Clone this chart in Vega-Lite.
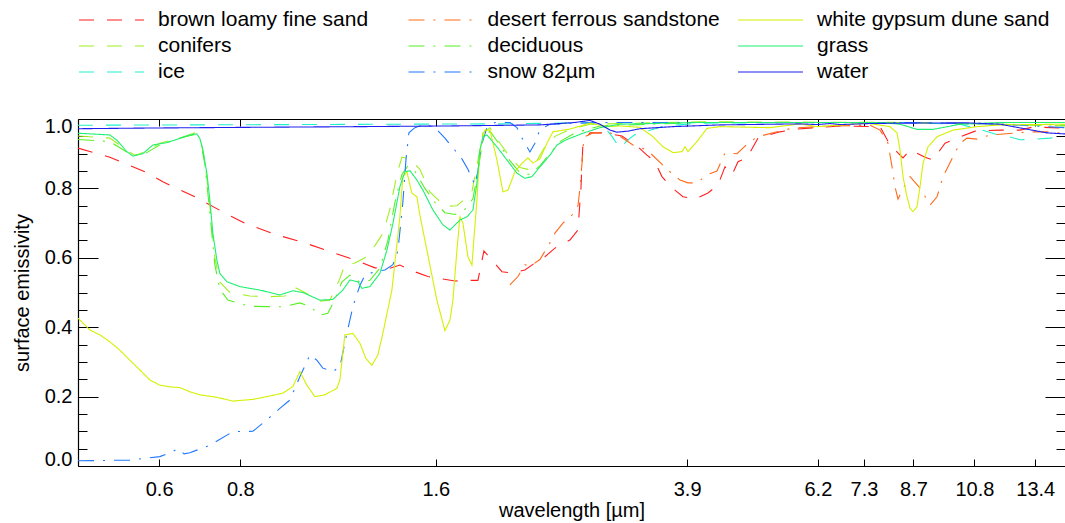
{
  "$schema": "https://vega.github.io/schema/vega-lite/v6.json",
  "width": 987,
  "height": 347,
  "autosize": {"type": "none"},
  "padding": {"left": 78, "top": 119, "right": 0, "bottom": 57},
  "background": "white",
  "config": {
    "font": "Liberation Sans",
    "view": {"stroke": null},
    "axis": {"grid": false, "domainColor": "#000", "domainWidth": 1.2, "tickColor": "#000", "tickWidth": 1, "labelColor": "#000", "labelFontSize": 20, "titleColor": "#000", "titleFontSize": 20, "titleFontWeight": "normal", "labelOverlap": false}
  },
  "data": {"values": [
    {"s":"brown loamy fine sand","w":0.45,"e":0.916},{"s":"brown loamy fine sand","w":0.5038,"e":0.89},{"s":"brown loamy fine sand","w":0.5703,"e":0.848},{"s":"brown loamy fine sand","w":0.6079,"e":0.819},{"s":"brown loamy fine sand","w":0.681,"e":0.776},{"s":"brown loamy fine sand","w":0.7574,"e":0.729},{"s":"brown loamy fine sand","w":0.8189,"e":0.697},{"s":"brown loamy fine sand","w":0.9107,"e":0.666},{"s":"brown loamy fine sand","w":1.0057,"e":0.643},{"s":"brown loamy fine sand","w":1.0991,"e":0.618},{"s":"brown loamy fine sand","w":1.2009,"e":0.594},{"s":"brown loamy fine sand","w":1.2893,"e":0.571},{"s":"brown loamy fine sand","w":1.3597,"e":0.57},{"s":"brown loamy fine sand","w":1.4087,"e":0.579},{"s":"brown loamy fine sand","w":1.4596,"e":0.565},{"s":"brown loamy fine sand","w":1.5558,"e":0.546},{"s":"brown loamy fine sand","w":1.7122,"e":0.533},{"s":"brown loamy fine sand","w":1.8058,"e":0.535},{"s":"brown loamy fine sand","w":1.8577,"e":0.535},{"s":"brown loamy fine sand","w":1.8976,"e":0.62},{"s":"brown loamy fine sand","w":1.9385,"e":0.6},{"s":"brown loamy fine sand","w":2.0229,"e":0.56},{"s":"brown loamy fine sand","w":2.1032,"e":0.556},{"s":"brown loamy fine sand","w":2.1945,"e":0.565},{"s":"brown loamy fine sand","w":2.2737,"e":0.585},{"s":"brown loamy fine sand","w":2.3558,"e":0.603},{"s":"brown loamy fine sand","w":2.4408,"e":0.628},{"s":"brown loamy fine sand","w":2.5742,"e":0.651},{"s":"brown loamy fine sand","w":2.6483,"e":0.68},{"s":"brown loamy fine sand","w":2.6766,"e":0.8},{"s":"brown loamy fine sand","w":2.6957,"e":0.93},{"s":"brown loamy fine sand","w":2.7635,"e":0.96},{"s":"brown loamy fine sand","w":2.9144,"e":0.96},{"s":"brown loamy fine sand","w":3.0955,"e":0.951},{"s":"brown loamy fine sand","w":3.2762,"e":0.92},{"s":"brown loamy fine sand","w":3.3825,"e":0.896},{"s":"brown loamy fine sand","w":3.4798,"e":0.877},{"s":"brown loamy fine sand","w":3.5673,"e":0.834},{"s":"brown loamy fine sand","w":3.6701,"e":0.807},{"s":"brown loamy fine sand","w":3.8431,"e":0.776},{"s":"brown loamy fine sand","w":4.0102,"e":0.769},{"s":"brown loamy fine sand","w":4.1994,"e":0.787},{"s":"brown loamy fine sand","w":4.351,"e":0.81},{"s":"brown loamy fine sand","w":4.4604,"e":0.862},{"s":"brown loamy fine sand","w":4.5725,"e":0.839},{"s":"brown loamy fine sand","w":4.6708,"e":0.877},{"s":"brown loamy fine sand","w":4.8223,"e":0.888},{"s":"brown loamy fine sand","w":5.0141,"e":0.945},{"s":"brown loamy fine sand","w":5.4215,"e":0.963},{"s":"brown loamy fine sand","w":5.7578,"e":0.971},{"s":"brown loamy fine sand","w":6.7066,"e":0.98},{"s":"brown loamy fine sand","w":7.729,"e":0.978},{"s":"brown loamy fine sand","w":8.0075,"e":0.925},{"s":"brown loamy fine sand","w":8.3842,"e":0.888},{"s":"brown loamy fine sand","w":8.5969,"e":0.911},{"s":"brown loamy fine sand","w":9.0646,"e":0.89},{"s":"brown loamy fine sand","w":9.3254,"e":0.882},{"s":"brown loamy fine sand","w":9.7307,"e":0.93},{"s":"brown loamy fine sand","w":10.1537,"e":0.945},{"s":"brown loamy fine sand","w":10.8229,"e":0.965},{"s":"brown loamy fine sand","w":11.8278,"e":0.968},{"s":"brown loamy fine sand","w":12.6966,"e":0.968},{"s":"brown loamy fine sand","w":13.2944,"e":0.977},{"s":"brown loamy fine sand","w":14.89,"e":0.974},

    {"s":"conifers","w":0.45,"e":0.951},{"s":"conifers","w":0.5038,"e":0.945},{"s":"conifers","w":0.5351,"e":0.91},{"s":"conifers","w":0.5505,"e":0.895},{"s":"conifers","w":0.5703,"e":0.905},{"s":"conifers","w":0.6015,"e":0.93},{"s":"conifers","w":0.6457,"e":0.945},{"s":"conifers","w":0.681,"e":0.96},{"s":"conifers","w":0.6932,"e":0.95},{"s":"conifers","w":0.7056,"e":0.88},{"s":"conifers","w":0.7182,"e":0.75},{"s":"conifers","w":0.731,"e":0.6},{"s":"conifers","w":0.7441,"e":0.53},{"s":"conifers","w":0.7709,"e":0.5},{"s":"conifers","w":0.8276,"e":0.49},{"s":"conifers","w":0.8885,"e":0.488},{"s":"conifers","w":0.9369,"e":0.49},{"s":"conifers","w":0.9707,"e":0.515},{"s":"conifers","w":1.0057,"e":0.5},{"s":"conifers","w":1.0609,"e":0.475},{"s":"conifers","w":1.0991,"e":0.478},{"s":"conifers","w":1.1388,"e":0.54},{"s":"conifers","w":1.159,"e":0.58},{"s":"conifers","w":1.2009,"e":0.585},{"s":"conifers","w":1.2443,"e":0.6},{"s":"conifers","w":1.2893,"e":0.635},{"s":"conifers","w":1.3264,"e":0.67},{"s":"conifers","w":1.3597,"e":0.74},{"s":"conifers","w":1.3939,"e":0.84},{"s":"conifers","w":1.4187,"e":0.89},{"s":"conifers","w":1.4596,"e":0.885},{"s":"conifers","w":1.5123,"e":0.855},{"s":"conifers","w":1.5669,"e":0.79},{"s":"conifers","w":1.6526,"e":0.748},{"s":"conifers","w":1.7244,"e":0.75},{"s":"conifers","w":1.7741,"e":0.77},{"s":"conifers","w":1.8186,"e":0.79},{"s":"conifers","w":1.8577,"e":0.88},{"s":"conifers","w":1.8909,"e":0.96},{"s":"conifers","w":1.9385,"e":0.975},{"s":"conifers","w":2.0085,"e":0.93},{"s":"conifers","w":2.0809,"e":0.89},{"s":"conifers","w":2.1559,"e":0.86},{"s":"conifers","w":2.218,"e":0.855},{"s":"conifers","w":2.2737,"e":0.87},{"s":"conifers","w":2.3558,"e":0.92},{"s":"conifers","w":2.4408,"e":0.95},{"s":"conifers","w":2.5742,"e":0.97},{"s":"conifers","w":2.7635,"e":0.985},{"s":"conifers","w":4.0823,"e":0.992},{"s":"conifers","w":8.2969,"e":0.99},{"s":"conifers","w":11.8278,"e":0.985},{"s":"conifers","w":14.89,"e":0.98},

    {"s":"ice","w":0.45,"e":0.982},{"s":"ice","w":0.9881,"e":0.984},{"s":"ice","w":2.0085,"e":0.986},{"s":"ice","w":2.4845,"e":0.988},{"s":"ice","w":2.7635,"e":0.99},{"s":"ice","w":2.9144,"e":0.975},{"s":"ice","w":2.9876,"e":0.95},{"s":"ice","w":3.0738,"e":0.915},{"s":"ice","w":3.1621,"e":0.94},{"s":"ice","w":3.2416,"e":0.955},{"s":"ice","w":3.3825,"e":0.965},{"s":"ice","w":3.6054,"e":0.98},{"s":"ice","w":4.0823,"e":0.988},{"s":"ice","w":5.8198,"e":0.99},{"s":"ice","w":8.2969,"e":0.99},{"s":"ice","w":10.2642,"e":0.985},{"s":"ice","w":11.0178,"e":0.97},{"s":"ice","w":11.6185,"e":0.957},{"s":"ice","w":12.255,"e":0.948},{"s":"ice","w":12.6966,"e":0.94},{"s":"ice","w":13.3893,"e":0.942},{"s":"ice","w":14.1223,"e":0.945},{"s":"ice","w":14.89,"e":0.95},

    {"s":"desert ferrous sandstone","w":2.0809,"e":0.522},{"s":"desert ferrous sandstone","w":2.1409,"e":0.546},{"s":"desert ferrous sandstone","w":2.1945,"e":0.58},{"s":"desert ferrous sandstone","w":2.2337,"e":0.575},{"s":"desert ferrous sandstone","w":2.3144,"e":0.595},{"s":"desert ferrous sandstone","w":2.3981,"e":0.643},{"s":"desert ferrous sandstone","w":2.4408,"e":0.671},{"s":"desert ferrous sandstone","w":2.5111,"e":0.7},{"s":"desert ferrous sandstone","w":2.5925,"e":0.723},{"s":"desert ferrous sandstone","w":2.6483,"e":0.75},{"s":"desert ferrous sandstone","w":2.6671,"e":0.8},{"s":"desert ferrous sandstone","w":2.6861,"e":0.87},{"s":"desert ferrous sandstone","w":2.7052,"e":0.948},{"s":"desert ferrous sandstone","w":2.793,"e":0.96},{"s":"desert ferrous sandstone","w":2.9666,"e":0.96},{"s":"desert ferrous sandstone","w":3.0738,"e":0.95},{"s":"desert ferrous sandstone","w":3.2186,"e":0.925},{"s":"desert ferrous sandstone","w":3.3825,"e":0.911},{"s":"desert ferrous sandstone","w":3.58,"e":0.867},{"s":"desert ferrous sandstone","w":3.6701,"e":0.848},{"s":"desert ferrous sandstone","w":3.8028,"e":0.824},{"s":"desert ferrous sandstone","w":3.9119,"e":0.816},{"s":"desert ferrous sandstone","w":4.0388,"e":0.816},{"s":"desert ferrous sandstone","w":4.1846,"e":0.839},{"s":"desert ferrous sandstone","w":4.3356,"e":0.85},{"s":"desert ferrous sandstone","w":4.4604,"e":0.902},{"s":"desert ferrous sandstone","w":4.6543,"e":0.9},{"s":"desert ferrous sandstone","w":4.8742,"e":0.935},{"s":"desert ferrous sandstone","w":5.0141,"e":0.949},{"s":"desert ferrous sandstone","w":5.3636,"e":0.963},{"s":"desert ferrous sandstone","w":5.6767,"e":0.974},{"s":"desert ferrous sandstone","w":6.4733,"e":0.98},{"s":"desert ferrous sandstone","w":7.4594,"e":0.982},{"s":"desert ferrous sandstone","w":7.729,"e":0.968},{"s":"desert ferrous sandstone","w":7.9498,"e":0.93},{"s":"desert ferrous sandstone","w":8.0635,"e":0.863},{"s":"desert ferrous sandstone","w":8.1497,"e":0.805},{"s":"desert ferrous sandstone","w":8.2369,"e":0.769},{"s":"desert ferrous sandstone","w":8.3842,"e":0.8},{"s":"desert ferrous sandstone","w":8.5969,"e":0.834},{"s":"desert ferrous sandstone","w":8.9063,"e":0.801},{"s":"desert ferrous sandstone","w":9.2282,"e":0.752},{"s":"desert ferrous sandstone","w":9.4586,"e":0.776},{"s":"desert ferrous sandstone","w":9.662,"e":0.834},{"s":"desert ferrous sandstone","w":10.0108,"e":0.891},{"s":"desert ferrous sandstone","w":10.2642,"e":0.93},{"s":"desert ferrous sandstone","w":10.5202,"e":0.945},{"s":"desert ferrous sandstone","w":10.9,"e":0.942},{"s":"desert ferrous sandstone","w":11.4156,"e":0.954},{"s":"desert ferrous sandstone","w":12.561,"e":0.96},{"s":"desert ferrous sandstone","w":13.1551,"e":0.963},{"s":"desert ferrous sandstone","w":13.971,"e":0.963},{"s":"desert ferrous sandstone","w":14.6316,"e":0.96},

    {"s":"deciduous","w":0.45,"e":0.941},{"s":"deciduous","w":0.5038,"e":0.935},{"s":"deciduous","w":0.5351,"e":0.905},{"s":"deciduous","w":0.5466,"e":0.895},{"s":"deciduous","w":0.5703,"e":0.9},{"s":"deciduous","w":0.6015,"e":0.925},{"s":"deciduous","w":0.6457,"e":0.945},{"s":"deciduous","w":0.681,"e":0.955},{"s":"deciduous","w":0.6932,"e":0.945},{"s":"deciduous","w":0.7056,"e":0.87},{"s":"deciduous","w":0.7182,"e":0.73},{"s":"deciduous","w":0.731,"e":0.58},{"s":"deciduous","w":0.7441,"e":0.51},{"s":"deciduous","w":0.7655,"e":0.478},{"s":"deciduous","w":0.8276,"e":0.46},{"s":"deciduous","w":0.9303,"e":0.459},{"s":"deciduous","w":0.9881,"e":0.47},{"s":"deciduous","w":1.0238,"e":0.46},{"s":"deciduous","w":1.0609,"e":0.435},{"s":"deciduous","w":1.0912,"e":0.44},{"s":"deciduous","w":1.1186,"e":0.48},{"s":"deciduous","w":1.1467,"e":0.53},{"s":"deciduous","w":1.1799,"e":0.55},{"s":"deciduous","w":1.2225,"e":0.53},{"s":"deciduous","w":1.2667,"e":0.535},{"s":"deciduous","w":1.3123,"e":0.57},{"s":"deciduous","w":1.3501,"e":0.65},{"s":"deciduous","w":1.3841,"e":0.76},{"s":"deciduous","w":1.4187,"e":0.84},{"s":"deciduous","w":1.4492,"e":0.865},{"s":"deciduous","w":1.4857,"e":0.85},{"s":"deciduous","w":1.5393,"e":0.8},{"s":"deciduous","w":1.5949,"e":0.76},{"s":"deciduous","w":1.6526,"e":0.73},{"s":"deciduous","w":1.7122,"e":0.725},{"s":"deciduous","w":1.7741,"e":0.74},{"s":"deciduous","w":1.8251,"e":0.77},{"s":"deciduous","w":1.8577,"e":0.85},{"s":"deciduous","w":1.8909,"e":0.94},{"s":"deciduous","w":1.9385,"e":0.965},{"s":"deciduous","w":2.0085,"e":0.925},{"s":"deciduous","w":2.0809,"e":0.88},{"s":"deciduous","w":2.1559,"e":0.845},{"s":"deciduous","w":2.2337,"e":0.84},{"s":"deciduous","w":2.3144,"e":0.865},{"s":"deciduous","w":2.3981,"e":0.9},{"s":"deciduous","w":2.4845,"e":0.935},{"s":"deciduous","w":2.6203,"e":0.96},{"s":"deciduous","w":2.8634,"e":0.98},{"s":"deciduous","w":4.0823,"e":0.99},{"s":"deciduous","w":8.2969,"e":0.99},{"s":"deciduous","w":11.8278,"e":0.985},{"s":"deciduous","w":14.89,"e":0.982},

    {"s":"snow 82µm","w":0.45,"e":0.015},{"s":"snow 82µm","w":0.5408,"e":0.017},{"s":"snow 82µm","w":0.6015,"e":0.027},{"s":"snow 82µm","w":0.6276,"e":0.04},{"s":"snow 82µm","w":0.6411,"e":0.05},{"s":"snow 82µm","w":0.6554,"e":0.035},{"s":"snow 82µm","w":0.669,"e":0.038},{"s":"snow 82µm","w":0.7182,"e":0.06},{"s":"snow 82µm","w":0.7792,"e":0.099},{"s":"snow 82µm","w":0.8365,"e":0.1},{"s":"snow 82µm","w":0.879,"e":0.133},{"s":"snow 82µm","w":0.9205,"e":0.166},{"s":"snow 82µm","w":0.9538,"e":0.19},{"s":"snow 82µm","w":0.9881,"e":0.257},{"s":"snow 82µm","w":1.0238,"e":0.32},{"s":"snow 82µm","w":1.0494,"e":0.305},{"s":"snow 82µm","w":1.072,"e":0.282},{"s":"snow 82µm","w":1.1107,"e":0.272},{"s":"snow 82µm","w":1.1388,"e":0.286},{"s":"snow 82µm","w":1.1673,"e":0.382},{"s":"snow 82µm","w":1.1924,"e":0.459},{"s":"snow 82µm","w":1.2225,"e":0.52},{"s":"snow 82µm","w":1.2443,"e":0.55},{"s":"snow 82µm","w":1.2893,"e":0.56},{"s":"snow 82µm","w":1.3359,"e":0.565},{"s":"snow 82µm","w":1.3743,"e":0.58},{"s":"snow 82µm","w":1.3989,"e":0.62},{"s":"snow 82µm","w":1.4237,"e":0.76},{"s":"snow 82µm","w":1.439,"e":0.88},{"s":"snow 82µm","w":1.4544,"e":0.96},{"s":"snow 82µm","w":1.4857,"e":0.975},{"s":"snow 82µm","w":1.5393,"e":0.985},{"s":"snow 82µm","w":1.5949,"e":0.975},{"s":"snow 82µm","w":1.6526,"e":0.945},{"s":"snow 82µm","w":1.7122,"e":0.91},{"s":"snow 82µm","w":1.7553,"e":0.885},{"s":"snow 82µm","w":1.793,"e":0.855},{"s":"snow 82µm","w":1.838,"e":0.81},{"s":"snow 82µm","w":1.8577,"e":0.85},{"s":"snow 82µm","w":1.8842,"e":0.93},{"s":"snow 82µm","w":1.9179,"e":0.975},{"s":"snow 82µm","w":1.9731,"e":0.99},{"s":"snow 82µm","w":2.0809,"e":0.99},{"s":"snow 82µm","w":2.1333,"e":0.975},{"s":"snow 82µm","w":2.179,"e":0.94},{"s":"snow 82µm","w":2.2337,"e":0.905},{"s":"snow 82µm","w":2.2737,"e":0.93},{"s":"snow 82µm","w":2.3144,"e":0.97},{"s":"snow 82µm","w":2.3981,"e":0.985},{"s":"snow 82µm","w":2.8634,"e":0.99},{"s":"snow 82µm","w":4.0823,"e":0.99},{"s":"snow 82µm","w":8.2969,"e":0.99},{"s":"snow 82µm","w":11.8278,"e":0.985},{"s":"snow 82µm","w":14.89,"e":0.975},

    {"s":"white gypsum dune sand","w":0.45,"e":0.426},{"s":"white gypsum dune sand","w":0.4693,"e":0.392},{"s":"white gypsum dune sand","w":0.4862,"e":0.378},{"s":"white gypsum dune sand","w":0.5038,"e":0.358},{"s":"white gypsum dune sand","w":0.5219,"e":0.334},{"s":"white gypsum dune sand","w":0.5408,"e":0.305},{"s":"white gypsum dune sand","w":0.5603,"e":0.277},{"s":"white gypsum dune sand","w":0.5805,"e":0.248},{"s":"white gypsum dune sand","w":0.6015,"e":0.233},{"s":"white gypsum dune sand","w":0.6232,"e":0.228},{"s":"white gypsum dune sand","w":0.6457,"e":0.226},{"s":"white gypsum dune sand","w":0.669,"e":0.214},{"s":"white gypsum dune sand","w":0.6932,"e":0.205},{"s":"white gypsum dune sand","w":0.7362,"e":0.198},{"s":"white gypsum dune sand","w":0.7792,"e":0.187},{"s":"white gypsum dune sand","w":0.8365,"e":0.192},{"s":"white gypsum dune sand","w":0.879,"e":0.2},{"s":"white gypsum dune sand","w":0.9303,"e":0.21},{"s":"white gypsum dune sand","w":0.9638,"e":0.229},{"s":"white gypsum dune sand","w":0.9881,"e":0.272},{"s":"white gypsum dune sand","w":1.0129,"e":0.233},{"s":"white gypsum dune sand","w":1.042,"e":0.2},{"s":"white gypsum dune sand","w":1.0797,"e":0.205},{"s":"white gypsum dune sand","w":1.1266,"e":0.224},{"s":"white gypsum dune sand","w":1.1388,"e":0.248},{"s":"white gypsum dune sand","w":1.159,"e":0.378},{"s":"white gypsum dune sand","w":1.1924,"e":0.382},{"s":"white gypsum dune sand","w":1.2225,"e":0.354},{"s":"white gypsum dune sand","w":1.2487,"e":0.31},{"s":"white gypsum dune sand","w":1.2756,"e":0.29},{"s":"white gypsum dune sand","w":1.3031,"e":0.32},{"s":"white gypsum dune sand","w":1.3264,"e":0.383},{"s":"white gypsum dune sand","w":1.3694,"e":0.507},{"s":"white gypsum dune sand","w":1.4087,"e":0.718},{"s":"white gypsum dune sand","w":1.4237,"e":0.834},{"s":"white gypsum dune sand","w":1.4441,"e":0.848},{"s":"white gypsum dune sand","w":1.47,"e":0.786},{"s":"white gypsum dune sand","w":1.4963,"e":0.776},{"s":"white gypsum dune sand","w":1.5123,"e":0.723},{"s":"white gypsum dune sand","w":1.5503,"e":0.622},{"s":"white gypsum dune sand","w":1.6062,"e":0.478},{"s":"white gypsum dune sand","w":1.6526,"e":0.39},{"s":"white gypsum dune sand","w":1.6822,"e":0.42},{"s":"white gypsum dune sand","w":1.7001,"e":0.478},{"s":"white gypsum dune sand","w":1.7244,"e":0.622},{"s":"white gypsum dune sand","w":1.7428,"e":0.718},{"s":"white gypsum dune sand","w":1.7615,"e":0.7},{"s":"white gypsum dune sand","w":1.793,"e":0.603},{"s":"white gypsum dune sand","w":1.8186,"e":0.579},{"s":"white gypsum dune sand","w":1.8511,"e":0.767},{"s":"white gypsum dune sand","w":1.8709,"e":0.911},{"s":"white gypsum dune sand","w":1.9043,"e":0.968},{"s":"white gypsum dune sand","w":1.9385,"e":0.968},{"s":"white gypsum dune sand","w":1.9872,"e":0.882},{"s":"white gypsum dune sand","w":2.03,"e":0.79},{"s":"white gypsum dune sand","w":2.0662,"e":0.795},{"s":"white gypsum dune sand","w":2.1182,"e":0.848},{"s":"white gypsum dune sand","w":2.1713,"e":0.872},{"s":"white gypsum dune sand","w":2.218,"e":0.888},{"s":"white gypsum dune sand","w":2.2576,"e":0.873},{"s":"white gypsum dune sand","w":2.3144,"e":0.885},{"s":"white gypsum dune sand","w":2.3725,"e":0.93},{"s":"white gypsum dune sand","w":2.4236,"e":0.963},{"s":"white gypsum dune sand","w":2.5742,"e":0.971},{"s":"white gypsum dune sand","w":2.7635,"e":0.988},{"s":"white gypsum dune sand","w":2.9351,"e":0.978},{"s":"white gypsum dune sand","w":3.0738,"e":0.98},{"s":"white gypsum dune sand","w":3.2996,"e":0.976},{"s":"white gypsum dune sand","w":3.4552,"e":0.949},{"s":"white gypsum dune sand","w":3.58,"e":0.92},{"s":"white gypsum dune sand","w":3.7092,"e":0.903},{"s":"white gypsum dune sand","w":3.8295,"e":0.906},{"s":"white gypsum dune sand","w":3.8705,"e":0.92},{"s":"white gypsum dune sand","w":3.9119,"e":0.906},{"s":"white gypsum dune sand","w":4.0388,"e":0.935},{"s":"white gypsum dune sand","w":4.1846,"e":0.973},{"s":"white gypsum dune sand","w":4.3822,"e":0.978},{"s":"white gypsum dune sand","w":5.2324,"e":0.975},{"s":"white gypsum dune sand","w":5.8198,"e":0.986},{"s":"white gypsum dune sand","w":6.181,"e":0.978},{"s":"white gypsum dune sand","w":7.3794,"e":0.988},{"s":"white gypsum dune sand","w":8.0075,"e":0.978},{"s":"white gypsum dune sand","w":8.2077,"e":0.96},{"s":"white gypsum dune sand","w":8.2969,"e":0.911},{"s":"white gypsum dune sand","w":8.3842,"e":0.834},{"s":"white gypsum dune sand","w":8.504,"e":0.776},{"s":"white gypsum dune sand","w":8.5969,"e":0.743},{"s":"white gypsum dune sand","w":8.6869,"e":0.733},{"s":"white gypsum dune sand","w":8.811,"e":0.747},{"s":"white gypsum dune sand","w":8.9063,"e":0.805},{"s":"white gypsum dune sand","w":9.0005,"e":0.872},{"s":"white gypsum dune sand","w":9.1615,"e":0.92},{"s":"white gypsum dune sand","w":9.4586,"e":0.949},{"s":"white gypsum dune sand","w":10.0108,"e":0.968},{"s":"white gypsum dune sand","w":10.9,"e":0.978},{"s":"white gypsum dune sand","w":11.8278,"e":0.983},{"s":"white gypsum dune sand","w":14.89,"e":0.985},

    {"s":"grass","w":0.45,"e":0.959},{"s":"grass","w":0.5038,"e":0.954},{"s":"grass","w":0.5164,"e":0.939},{"s":"grass","w":0.5351,"e":0.906},{"s":"grass","w":0.5466,"e":0.893},{"s":"grass","w":0.5663,"e":0.9},{"s":"grass","w":0.5867,"e":0.925},{"s":"grass","w":0.6166,"e":0.932},{"s":"grass","w":0.6457,"e":0.944},{"s":"grass","w":0.669,"e":0.954},{"s":"grass","w":0.6858,"e":0.957},{"s":"grass","w":0.6932,"e":0.944},{"s":"grass","w":0.7006,"e":0.911},{"s":"grass","w":0.7106,"e":0.844},{"s":"grass","w":0.7182,"e":0.767},{"s":"grass","w":0.7258,"e":0.671},{"s":"grass","w":0.7362,"e":0.594},{"s":"grass","w":0.7441,"e":0.555},{"s":"grass","w":0.7628,"e":0.531},{"s":"grass","w":0.7988,"e":0.517},{"s":"grass","w":0.8575,"e":0.507},{"s":"grass","w":0.9205,"e":0.493},{"s":"grass","w":0.9638,"e":0.505},{"s":"grass","w":0.9986,"e":0.5},{"s":"grass","w":1.0609,"e":0.478},{"s":"grass","w":1.1107,"e":0.48},{"s":"grass","w":1.1508,"e":0.507},{"s":"grass","w":1.1799,"e":0.536},{"s":"grass","w":1.2138,"e":0.531},{"s":"grass","w":1.2311,"e":0.512},{"s":"grass","w":1.2667,"e":0.517},{"s":"grass","w":1.3123,"e":0.555},{"s":"grass","w":1.3454,"e":0.622},{"s":"grass","w":1.3743,"e":0.699},{"s":"grass","w":1.4087,"e":0.805},{"s":"grass","w":1.4339,"e":0.848},{"s":"grass","w":1.4596,"e":0.851},{"s":"grass","w":1.4963,"e":0.824},{"s":"grass","w":1.5285,"e":0.795},{"s":"grass","w":1.5836,"e":0.738},{"s":"grass","w":1.6409,"e":0.695},{"s":"grass","w":1.6822,"e":0.68},{"s":"grass","w":1.7428,"e":0.709},{"s":"grass","w":1.7867,"e":0.718},{"s":"grass","w":1.8251,"e":0.738},{"s":"grass","w":1.8511,"e":0.815},{"s":"grass","w":1.8709,"e":0.911},{"s":"grass","w":1.8909,"e":0.949},{"s":"grass","w":1.9179,"e":0.954},{"s":"grass","w":1.9872,"e":0.92},{"s":"grass","w":2.0589,"e":0.882},{"s":"grass","w":2.1333,"e":0.844},{"s":"grass","w":2.1945,"e":0.829},{"s":"grass","w":2.2496,"e":0.834},{"s":"grass","w":2.3144,"e":0.862},{"s":"grass","w":2.3981,"e":0.896},{"s":"grass","w":2.4582,"e":0.925},{"s":"grass","w":2.5469,"e":0.941},{"s":"grass","w":2.6957,"e":0.959},{"s":"grass","w":2.8634,"e":0.975},{"s":"grass","w":3.0738,"e":0.985},{"s":"grass","w":4.0823,"e":0.99},{"s":"grass","w":5.8198,"e":0.99},{"s":"grass","w":7.729,"e":0.99},{"s":"grass","w":8.2969,"e":0.985},{"s":"grass","w":8.811,"e":0.97},{"s":"grass","w":9.3254,"e":0.97},{"s":"grass","w":10.2642,"e":0.985},{"s":"grass","w":11.8278,"e":0.99},{"s":"grass","w":14.89,"e":0.99},

    {"s":"water","w":0.45,"e":0.972},{"s":"water","w":0.5805,"e":0.974},{"s":"water","w":0.8276,"e":0.976},{"s":"water","w":1.2225,"e":0.978},{"s":"water","w":1.6822,"e":0.98},{"s":"water","w":2.3144,"e":0.983},{"s":"water","w":2.6203,"e":0.99},{"s":"water","w":2.7635,"e":0.996},{"s":"water","w":2.8634,"e":0.985},{"s":"water","w":2.9666,"e":0.968},{"s":"water","w":3.0411,"e":0.962},{"s":"water","w":3.1621,"e":0.965},{"s":"water","w":3.2996,"e":0.972},{"s":"water","w":3.7092,"e":0.978},{"s":"water","w":4.3822,"e":0.983},{"s":"water","w":5.8198,"e":0.986},{"s":"water","w":6.181,"e":0.984},{"s":"water","w":6.4733,"e":0.987},{"s":"water","w":6.7066,"e":0.984},{"s":"water","w":7.4594,"e":0.987},{"s":"water","w":8.2969,"e":0.988},{"s":"water","w":10.5202,"e":0.989},{"s":"water","w":11.8278,"e":0.985},{"s":"water","w":13.971,"e":0.96},{"s":"water","w":14.89,"e":0.957}
  ]},
  "layer": [
    {
      "mark": {"type": "line", "strokeWidth": 1.1, "clip": true},
      "encoding": {
        "x": {"field": "w", "type": "quantitative",
          "scale": {"type": "log", "domain": [0.45, 14.89], "nice": false},
          "axis": {"orient": "bottom", "values": [0.6, 0.8, 1.6, 3.9, 6.2, 7.3, 8.7, 10.8, 13.4], "format": ".1f", "title": "wavelength [µm]", "tickSize": -7, "labelPadding": 20, "titlePadding": 1}},
        "y": {"field": "e", "type": "quantitative",
          "scale": {"domain": [0, 1], "nice": false, "zero": false},
          "axis": {"orient": "left", "values": [0, 0.05, 0.1, 0.15, 0.2, 0.25, 0.3, 0.35, 0.4, 0.45, 0.5, 0.55, 0.6, 0.65, 0.7, 0.75, 0.8, 0.85, 0.9, 0.95, 1],
            "labelExpr": "round(datum.value*20) % 4 == 0 ? format(datum.value, '.1f') : ''",
            "tickSize": {"condition": {"test": "round(datum.value*20) % 4 == 0", "value": -20}, "value": -9},
            "labelPadding": 26, "labelFlush": true, "labelFlushOffset": 3, "title": "surface emissivity", "titlePadding": 12}},
        "color": {"field": "s", "type": "nominal",
          "scale": {"domain": ["brown loamy fine sand", "conifers", "ice", "desert ferrous sandstone", "deciduous", "snow 82µm", "white gypsum dune sand", "grass", "water"],
                    "range": ["#ff1f1f", "#a0f020", "#1ff0cc", "#ff6a1a", "#58f020", "#1f78ff", "#d4f000", "#1ff070", "#1f1fef"]},
          "legend": {"orient": "none", "legendX": 0, "legendY": -110, "columns": 3, "title": null, "symbolType": "stroke", "symbolSize": 4225, "symbolStrokeWidth": 1.2, "clipHeight": 22, "labelFontSize": 21, "labelColor": "#000", "labelOffset": 13, "labelLimit": 500, "columnPadding": 16.5, "rowPadding": 4, "gridAlign": "all",
            "encode": {"symbols": {"update": {"strokeDash": {"scale": "strokeDash", "field": "value"}}}}}},
        "strokeDash": {"field": "s", "type": "nominal",
          "scale": {"domain": ["brown loamy fine sand", "conifers", "ice", "desert ferrous sandstone", "deciduous", "snow 82µm", "white gypsum dune sand", "grass", "water"],
                    "range": [[15, 13], [15, 13], [15, 13], [16, 9, 2, 9], [16, 9, 2, 9], [16, 9, 2, 9], [1, 0], [1, 0], [1, 0]]},
          "legend": null}
      }
    },
    {
      "mark": {"type": "point", "opacity": 0},
      "encoding": {
        "x": {"field": "w", "type": "quantitative",
          "scale": {"type": "log", "domain": [0.45, 14.89], "nice": false},
          "axis": {"orient": "top", "values": [0.6, 0.8, 1.6, 3.9, 6.2, 7.3, 8.7, 10.8, 13.4], "labels": false, "title": null, "tickSize": -7}},
        "y": {"field": "e", "type": "quantitative",
          "scale": {"domain": [0, 1], "nice": false, "zero": false},
          "axis": {"orient": "right", "values": [0, 0.05, 0.1, 0.15, 0.2, 0.25, 0.3, 0.35, 0.4, 0.45, 0.5, 0.55, 0.6, 0.65, 0.7, 0.75, 0.8, 0.85, 0.9, 0.95, 1],
            "labels": false, "title": null, "domain": false,
            "tickSize": {"condition": {"test": "round(datum.value*20) % 4 == 0", "value": -20}, "value": -9}}}
      }
    }
  ],
  "resolve": {"axis": {"x": "independent", "y": "independent"}}
}
